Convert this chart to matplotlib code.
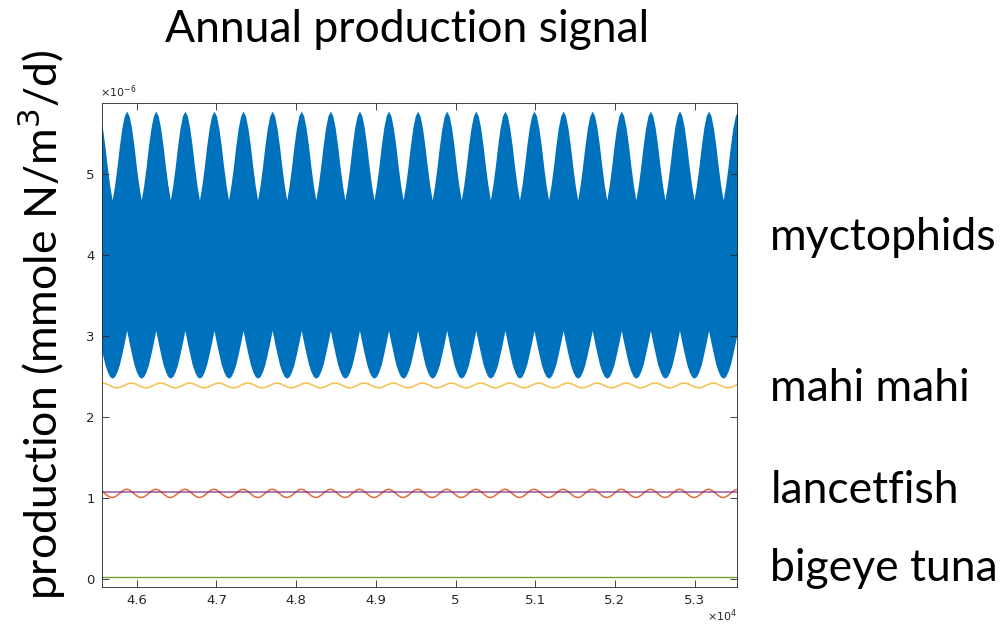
import numpy as np
import matplotlib.pyplot as plt
from matplotlib.ticker import FuncFormatter

# time axis (model day), one annual cycle is sampled 12 times
first_day = 45327
cycle_days = 365
n_cycles = 23

# production, x1e-6 mmole N/m3/d, one annual cycle
myct_upper = [4.68, 4.86, 5.09, 5.35, 5.57, 5.72, 5.78, 5.72, 5.57, 5.35, 5.09, 4.86]
myct_lower = [2.48, 2.50, 2.56, 2.65, 2.78, 2.92, 3.07, 2.92, 2.78, 2.65, 2.56, 2.50]
mahi = [2.36, 2.365, 2.375, 2.39, 2.405, 2.415, 2.42, 2.415, 2.405, 2.39, 2.375, 2.365]
mahi_lag = 60
lancet = [1.005, 1.012, 1.03, 1.055, 1.08, 1.1, 1.108, 1.1, 1.08, 1.055, 1.03, 1.012]
lancet2 = [1.075] * 12
tuna = [0.02] * 12

labels = ['myctophids', 'mahi mahi', 'lancetfish', 'bigeye tuna']
label_y = [250, 401, 503, 581]  # baselines in pixels

xticks = [46000, 47000, 48000, 49000, 50000, 51000, 52000, 53000]
yticks = [0, 1, 2, 3, 4, 5]


def series(cycle):
    vals = np.tile(cycle, n_cycles)
    return np.append(vals, cycle[0])


t = first_day + cycle_days * np.arange(12 * n_cycles + 1) / 12.0

fig = plt.figure(figsize=(10.03, 6.33), dpi=100)
ax = fig.add_axes([0.1014, 0.0727, 0.6334, 0.7646])

ax.fill_between(t, series(myct_lower), series(myct_upper), color='#0072BD', linewidth=0)
ax.plot(t + mahi_lag, series(mahi), color='#EDB120', lw=1.2, alpha=0.75)
ax.plot(t, series(lancet), color='#D95319', lw=1.1, alpha=0.85)
ax.plot(t, series(lancet2), color='#7E2F8E', lw=1.1, alpha=0.8)
ax.plot(t, series(tuna), color='#77AC30', lw=1.0)
ax.plot(t, series(tuna), color='#4F7A1A', lw=0.6, ls=(0, (1, 3)))

ax.set_xlim(45561, 53531)
ax.set_ylim(-0.1, 5.88)
ax.set_xticks(xticks)
ax.set_yticks(yticks)
ax.xaxis.set_major_formatter(FuncFormatter(lambda v, p: '%g' % (v / 1e4)))
ax.yaxis.set_major_formatter(FuncFormatter(lambda v, p: '%g' % v))
ax.tick_params(direction='in', length=5, width=0.6, top=True, right=True,
               labelsize=9.5, colors='#262626', pad=5)
for s in ax.spines.values():
    s.set_color('#262626')
    s.set_linewidth(0.6)

fig.text(0.1, 1 - 97 / 633, r'$\times10^{-6}$', fontsize=8, color='#262626')
fig.text(0.7348, 1 - 621 / 633, r'$\times10^{4}$', fontsize=8, color='#262626', ha='right')

fig.text(0.406, 1 - 30 / 633, 'Annual production signal', fontsize=32,
         family='Lato', ha='center', va='center')
fig.text(0.042, 1 - 325 / 633, 'production (mmole N/m$^3$/d)', fontsize=32,
         family='Lato', rotation=90, ha='center', va='center')
for name, yb in zip(labels, label_y):
    fig.text(0.768, 1 - yb / 633, name, fontsize=32, family='Lato',
             ha='left', va='baseline')

fig.savefig('out.png', dpi=100)
